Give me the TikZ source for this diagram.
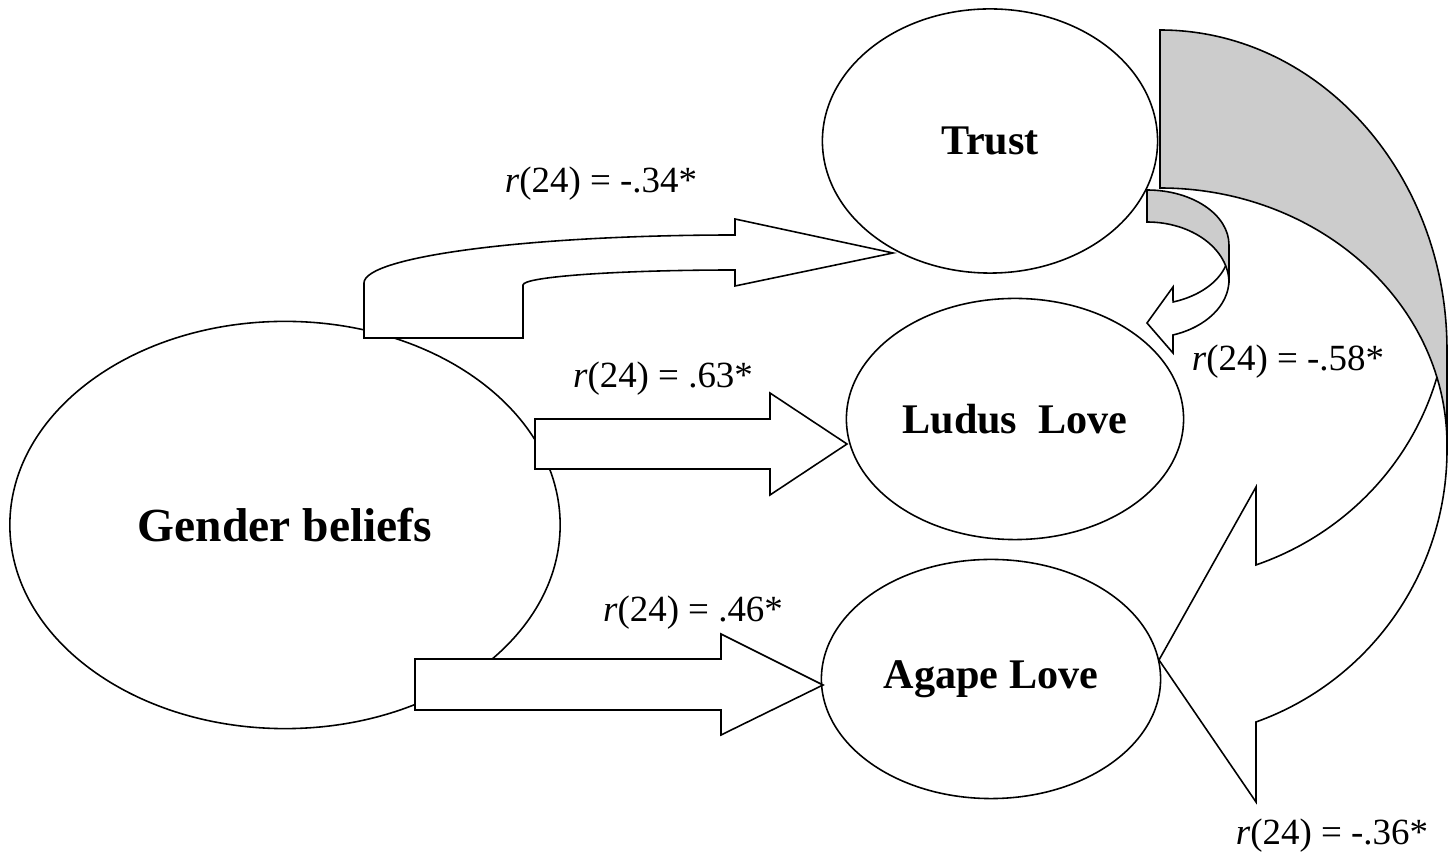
\documentclass[tikz,border=0pt]{standalone}
\usepackage{fontspec}
\setmainfont{Liberation Serif}
\usetikzlibrary{shapes.geometric}

\begin{document}
\begin{tikzpicture}[x=0.01cm,y=-0.01cm]
\tikzstyle{construct}=[ellipse,draw,fill=white,line width=0.45pt,inner sep=0pt,font=\fontsize{12}{14}\selectfont\bfseries]
\tikzstyle{blockarrow}=[draw,fill=white,line width=0.45pt,line join=miter]
\tikzstyle{backside}=[draw,fill=black!20,line width=0.45pt,line join=miter]
\tikzstyle{coef}=[anchor=base,inner sep=0pt,font=\fontsize{10.5}{12}\selectfont]

\useasboundingbox (0,0) rectangle (1456,855);

\node[construct,minimum width=5.50cm,minimum height=4.07cm,font=\fontsize{13.5}{16}\selectfont\bfseries] (gender) at (285,525) {Gender beliefs};
\node[construct,minimum width=3.35cm,minimum height=2.64cm] (trust) at (990,141) {Trust};
\node[construct,minimum width=3.37cm,minimum height=2.41cm] (ludus) at (1015,419) {Ludus\ \ Love};
\node[construct,minimum width=3.39cm,minimum height=2.39cm] (agape) at (991,679) {Agape Love};

%draw the bent arrow up to trust
\draw[blockarrow] (364,338) -- (364,283) arc[start angle=180,end angle=270,x radius=371,y radius=48] -- (735,219) -- (893,253) -- (735,286) -- (735,270) arc[start angle=270,end angle=180,x radius=212,y radius=15] -- (523,338) -- cycle;
\node[coef] (rTrust) at (601,193) {\textit{r}(24) = -.34*};

\draw[blockarrow] (535,419) -- (770,419) -- (770,393) -- (847,444) -- (770,495) -- (770,469) -- (535,469) -- cycle;
\node[coef] (rLudus) at (663,388) {\textit{r}(24) = .63*};

\draw[blockarrow] (415,659) -- (721,659) -- (721,634) -- (823,685) -- (721,735) -- (721,710) -- (415,710) -- cycle;
\node[coef] (rAgape) at (693,622) {\textit{r}(24) = .46*};

%draw the curved arrow from trust to agape
\draw[blockarrow] (1437,377) arc[start angle=15.9,end angle=70.53,x radius=288,y radius=281] -- (1256,487) -- (1159,660) -- (1256,802) -- (1256,722) arc[start angle=70.46,end angle=0,x radius=287,y radius=289] -- (1447,377) -- cycle;
\draw[backside] (1160,188) -- (1160,30) arc[start angle=-90,end angle=0,x radius=287,y radius=320] -- (1447,445) arc[start angle=0,end angle=-90,x radius=287,y radius=257] -- cycle;
\node[coef] (rTrustAgape) at (1332,845) {\textit{r}(24) = -.36*};

%draw the small curved arrow from trust to ludus
\draw[blockarrow] (1226,265) arc[start angle=15.6,end angle=71.5,x radius=82,y radius=54.5] -- (1173,287) -- (1147,323) -- (1173,353) -- (1173,335) arc[start angle=71.5,end angle=0,x radius=82,y radius=58] -- (1229,265) -- cycle;
\draw[backside] (1147,222) -- (1147,190) arc[start angle=-90,end angle=0,x radius=82,y radius=55] -- (1229,283) arc[start angle=0,end angle=-90,x radius=82,y radius=61] -- cycle;
\node[coef] (rTrustLudus) at (1288,371) {\textit{r}(24) = -.58*};

\end{tikzpicture}
\end{document}
